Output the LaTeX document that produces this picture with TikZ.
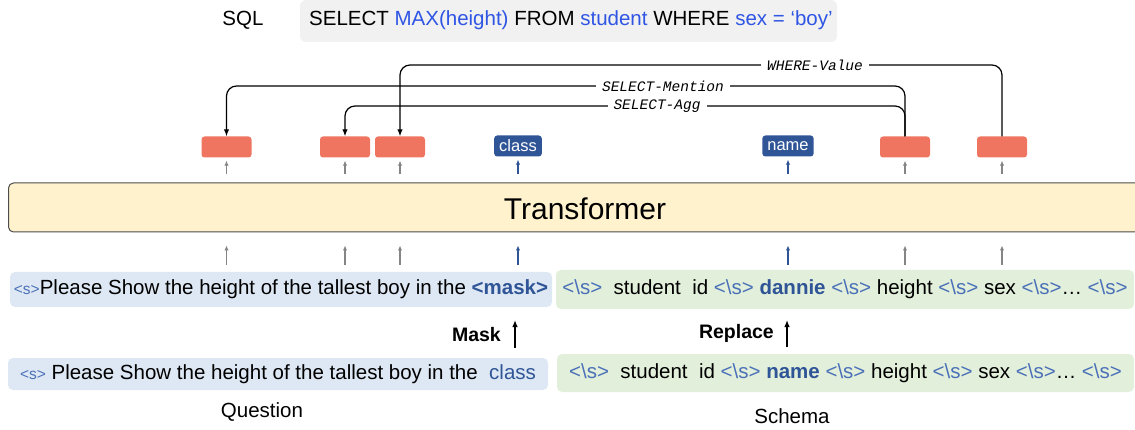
\documentclass[tikz,border=0pt]{standalone}
\usepackage{fontspec}
\setmainfont{Liberation Sans}
\newfontfamily\tagfont{Liberation Mono}
\usetikzlibrary{positioning, arrows.meta}

\definecolor{sqlgray}{HTML}{F1F1F1}
\definecolor{sqlblue}{HTML}{2F55E4}
\definecolor{tokred}{HTML}{EF7561}
\definecolor{tokblue}{HTML}{2F5597}
\definecolor{tokmid}{HTML}{4A70B8}
\definecolor{qfill}{HTML}{DEE8F4}
\definecolor{sfill}{HTML}{E2EFDA}
\definecolor{tffill}{HTML}{FFF2CC}
\definecolor{arrgray}{HTML}{858585}

\newcommand\stok{{\color{tokmid}\fontsize{15.5}{15}\selectfont<s>}}
\newcommand\etok{{\color{tokmid}<\textbackslash s>}}

\begin{document}
\begin{tikzpicture}[x=1pt, y=-1pt,
    txt/.style={font=\fontsize{20.5}{24}\selectfont, inner sep=0pt},
    redbox/.style={rectangle, rounded corners=3pt, fill=tokred, minimum width=50pt, minimum height=21pt},
    bluebox/.style={rectangle, rounded corners=3pt, fill=tokblue, text=white, font=\fontsize{16.5}{18}\selectfont, minimum height=21pt, inner xsep=5pt},
    inbox/.style={rectangle, rounded corners=5pt, font=\fontsize{20.5}{24}\selectfont, inner xsep=1pt},
    tag/.style={fill=white, inner xsep=6pt, inner ysep=1pt, font=\tagfont\itshape\fontsize{14.5}{16}\selectfont},
    link/.style={-{Latex[length=7pt,width=5.5pt]}, rounded corners=10pt, line width=1.2pt},
    uparr/.style={-{Latex[length=5pt,width=4.5pt]}, line width=1.4pt},
    oparr/.style={-{Latex[length=7pt,width=5.5pt]}, line width=1.3pt},
    opname/.style={font=\bfseries\fontsize{19.5}{22}\selectfont, inner sep=0pt}]
  \useasboundingbox (0,0) rectangle (1135,430);

  % sql line
  \node[txt] (sqltag) at (243,20) {SQL};
  \node[rectangle, rounded corners=6pt, fill=sqlgray, minimum width=537pt, minimum height=42pt] (sqlbox) at (568.5,21) {};
  \node[txt, anchor=west] (sql) at (309,20) {SELECT {\color{sqlblue}MAX(height)} FROM {\color{sqlblue}student} WHERE {\color{sqlblue}sex = `boy'}};

  % output tokens
  \node[redbox] (r1) at (226.5,147) {};
  \node[redbox] (r2) at (345,147) {};
  \node[redbox] (r3) at (400,147) {};
  \node[bluebox] (c1) at (518,146) {class};
  \node[bluebox] (n1) at (788,146) {name};
  \node[redbox] (r4) at (905,147) {};
  \node[redbox] (r5) at (1002,147) {};

  % transformer
  \node[rectangle, rounded corners=5pt, draw=black!70, line width=1pt, fill=tffill, minimum width=1150pt, minimum height=49pt, anchor=west] (tf) at (8,207.5) {};
  \node[font=\fontsize{30}{34}\selectfont] (tftxt) at (585,209) {Transformer};

  % inputs
  \node[inbox, fill=qfill, minimum width=542pt, minimum height=35pt] (q1) at (281,289.5) {\stok Please Show the height of the tallest boy in the {\bfseries\color{tokblue}<mask>}};
  \node[inbox, fill=sfill, minimum width=578pt, minimum height=39pt] (s1) at (845,289.5) {\etok\ \ student\ \ id \etok\ {\bfseries\color{tokblue}dannie} \etok\ height \etok\ sex \etok\dots\ \etok};
  \node[inbox, fill=qfill, minimum width=540pt, minimum height=32pt] (q2) at (278,374) {\stok\ Please Show the height of the tallest boy in the\ \ {\color{tokblue}class}};
  \node[inbox, fill=sfill, minimum width=577pt, minimum height=38pt] (s2) at (845.5,373) {\etok\ \ student\ \ id \etok\ {\bfseries\color{tokblue}name} \etok\ height \etok\ sex \etok\dots\ \etok};
  \node[txt] (qlabel) at (262,412) {Question};
  \node[txt] (slabel) at (792,416) {Schema};

  % mask / replace
  \node[opname, anchor=east] (mask) at (501,335) {Mask};
  \node[opname, anchor=east] (repl) at (774,333) {Replace};
  \draw[oparr] ([xshift=14pt,yshift=-13pt]mask.east) -- ([xshift=14pt,yshift=15pt]mask.east);
  \draw[oparr] ([xshift=13pt,yshift=-14pt]repl.east) -- ([xshift=13pt,yshift=13pt]repl.east);

  % arrows through the transformer
  \foreach \b/\c in {r1/arrgray, r2/arrgray, r3/arrgray, c1/tokblue, n1/tokblue, r4/arrgray, r5/arrgray} {
    \draw[uparr, draw=\c] ([yshift=8pt]\b.south |- tf.north) -- ([yshift=-3pt]\b.south);
    \draw[uparr, draw=\c] ([yshift=7pt]\b.south |- q1.north) -- ([yshift=-13pt]\b.south |- tf.south);
  }

  % links
  \draw[link] (r5.north) -- (r5.north |- 0,65) -| (r3.north);
  \draw[link] (r4.north) -- (r4.north |- 0,86) -| (r1.north);
  \draw[link] (r4.north) -- (r4.north |- 0,106) -| (r2.north);
  \node[tag] (wv) at (815,65) {WHERE-Value};
  \node[tag] (sm) at (663,86) {SELECT-Mention};
  \node[tag] (sa) at (657,106) {SELECT-Agg};
\end{tikzpicture}
\end{document}
